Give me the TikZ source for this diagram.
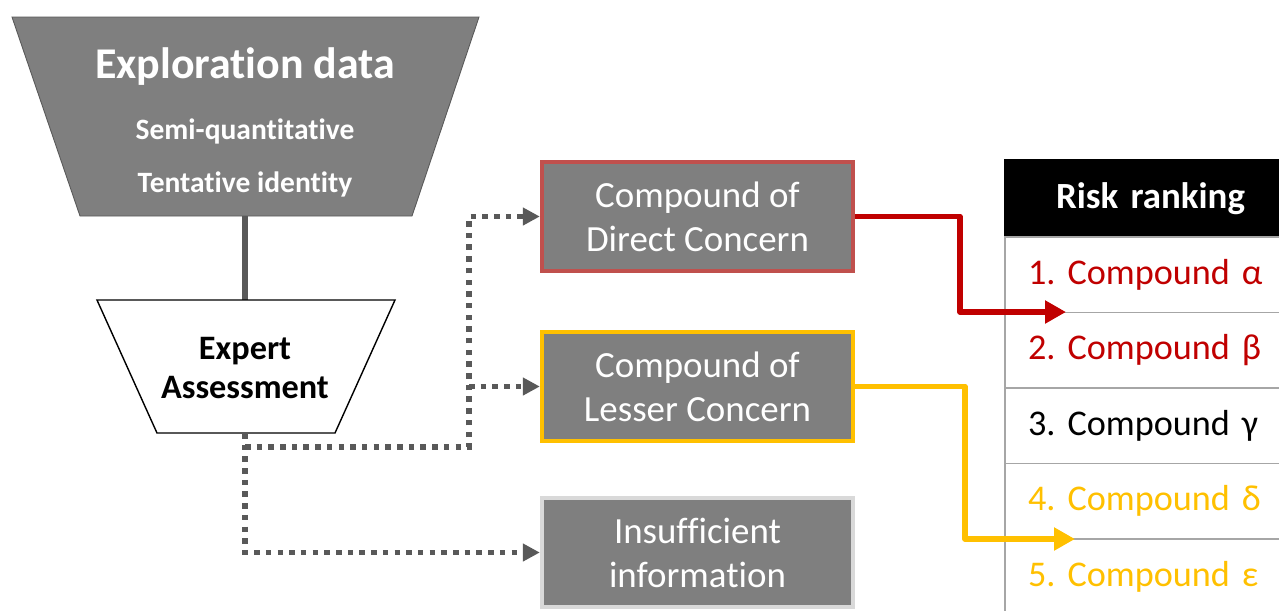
\documentclass[tikz,border=0pt]{standalone}
\usepackage{fontspec}
\setmainfont{Carlito}[Ligatures={TeX,NoCommon}]
\usepackage{xcolor}
\usetikzlibrary{positioning,arrows.meta}

\definecolor{boxgray}{HTML}{7F7F7F}
\definecolor{linegray}{HTML}{595959}
\definecolor{riskred}{HTML}{C00000}
\definecolor{directred}{HTML}{C0504D}
\definecolor{lesseryellow}{HTML}{FFC000}
\definecolor{insuffgray}{HTML}{D9D9D9}
\definecolor{rulegray}{HTML}{A6A6A6}

\begin{document}
\begin{tikzpicture}[x=0.02cm, y=-0.02cm,
    catbox/.style={draw, line width=2.5pt, fill=boxgray, text=white, minimum width=6.22cm,
      minimum height=2.18cm, align=center, font=\fontsize{21}{25}\selectfont},
    rankcell/.style={draw=rulegray, line width=0.7pt, outer sep=0pt, minimum height=1.51cm, text width=4.9cm,
      inner xsep=0.46cm, align=left, font=\fontsize{20.6}{25}\selectfont\frenchspacing},
    dotflow/.style={draw=linegray, line width=3.2pt, dash pattern=on 0.11cm off 0.124cm,
      -{Triangle[length=0.34cm,width=0.34cm]}},
    rankflow/.style={line width=3.2pt, line join=round, -{Triangle[length=0.42cm,width=0.44cm]}}]
    \useasboundingbox (0,0) rectangle (1279,610);
    \clip (0,0) rectangle (1279,610);

    % funnel
    \draw[fill=boxgray, draw=linegray, line width=0.5pt] (12,17) -- (479,17) -- (412,216) -- (80,216) -- cycle;
    \node (explore) [text=white, font=\fontsize{25}{29}\bfseries] at (245,67) {Exploration data};
    \node (semi) [text=white, font=\fontsize{16.8}{19}\bfseries] at (245,131) {Semi-quantitative};
    \node (tentative) [text=white, font=\fontsize{16.8}{19}\bfseries] at (245,184) {Tentative identity};
    \coordinate (exploreBase) at (245,216);
    \coordinate (expertTop) at (245,300);
    \draw[linegray, line width=3.2pt] (exploreBase) -- (expertTop);

    \draw[fill=white, draw=black, line width=0.8pt] (97,300) -- (395,300) -- (335,433) -- (157,433) -- cycle;
    \node (expert) [align=center, font=\fontsize{19.5}{22.7}\bfseries] at (245,368) {Expert\\Assessment};

    % categories
    \node (direct) [catbox, draw=directred] at (697.5,216.5) {Compound of\\Direct Concern};
    \node (lesser) [catbox, draw=lesseryellow] at (697.5,386.5) {Compound of\\Lesser Concern};
    \node (insuff) [catbox, draw=insuffgray] at (697.5,552.5) {Insufficient\\information};

    \coordinate (split) at (245,447);
    \coordinate (riser) at (469,447);
    \draw[dotflow] (245,433) |- (insuff.west);
    \draw[dotflow] (split) -- (riser) |- (direct.west);
    \draw[dotflow] (riser |- lesser.west) -- (lesser.west);

    % ranking table
    \node (riskhead) [rankcell, draw=black, fill=black, text=white, align=center, minimum height=1.54cm,
      font=\fontsize{21}{25}\bfseries, anchor=north west] at (1005,160) {Risk ranking};
    \node (rankone) [rankcell, text=riskred, below=0pt of riskhead] {1. Compound α};
    \node (ranktwo) [rankcell, text=riskred, below=0pt of rankone] {2. Compound β};
    \node (rankthree) [rankcell, text=black, below=0pt of ranktwo] {3. Compound γ};
    \node (rankfour) [rankcell, text=lesseryellow, below=0pt of rankthree] {4. Compound δ};
    \node (rankfive) [rankcell, text=lesseryellow, below=0pt of rankfour] {5. Compound ε};

    \coordinate (redtip) at (1066,312);
    \coordinate (yellowtip) at (1075,539);
    \draw[rankflow, riskred] (direct.east) -| (960,312) -- (redtip);
    \draw[rankflow, lesseryellow] (lesser.east) -| (965,539) -- (yellowtip);
  \end{tikzpicture}
\end{document}
